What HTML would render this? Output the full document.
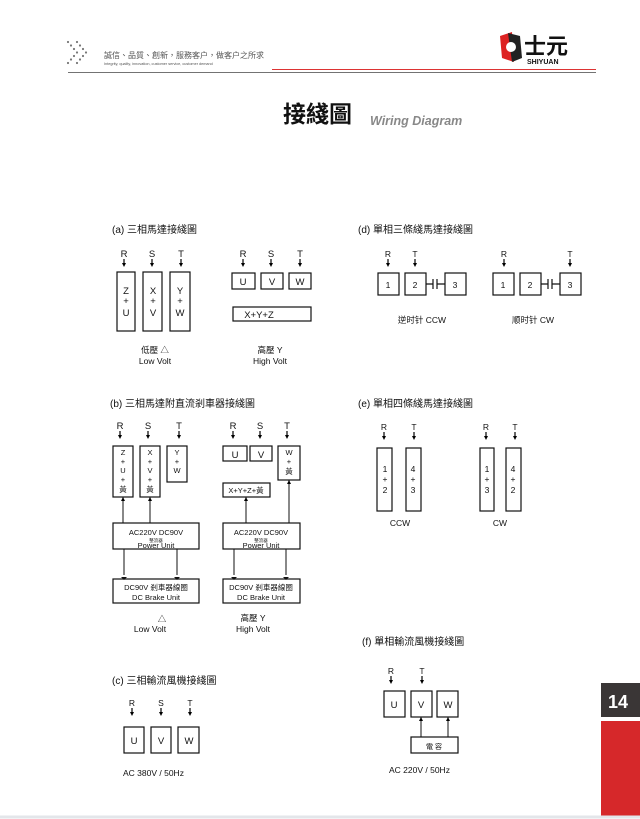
<!DOCTYPE html>
<html><head><meta charset="utf-8">
<style>
html,body{margin:0;padding:0;background:#fff;}
svg{display:block;font-family:"Liberation Sans","Noto Sans CJK TC",sans-serif;}
</style></head>
<body>
<svg width="640" height="819" viewBox="0 0 640 819" xmlns="http://www.w3.org/2000/svg">
<defs>
<g id="ar"><line x1="0" y1="0" x2="0" y2="6" stroke="#000" stroke-width="1.2"/><path d="M-2,4 L2,4 L0,8 Z" fill="#000"/></g>
<g id="au"><path d="M-2,4 L2,4 L0,0 Z" fill="#000"/></g>
</defs>
<rect width="640" height="819" fill="#fff"/>
<!-- header -->
<g fill="#777">
<circle cx="68" cy="42" r="1.1"/><circle cx="71" cy="45.5" r="1.1"/><circle cx="74" cy="49" r="1.1"/><circle cx="77" cy="52.5" r="1.1"/><circle cx="74" cy="56" r="1.1"/><circle cx="71" cy="59.5" r="1.1"/><circle cx="68" cy="63" r="1.1"/>
<circle cx="77" cy="42" r="1.1"/><circle cx="80" cy="45.5" r="1.1"/><circle cx="83" cy="49" r="1.1"/><circle cx="86" cy="52.5" r="1.1"/><circle cx="83" cy="56" r="1.1"/><circle cx="80" cy="59.5" r="1.1"/><circle cx="77" cy="63" r="1.1"/>
</g>
<text x="104" y="58" font-size="8" fill="#555">誠信、品質、創新，服務客户，做客户之所求</text>
<text x="104" y="65" font-size="3.8" fill="#555">Integrity, quality, innovation, customer service, customer demand</text>
<line x1="68" y1="72.5" x2="596" y2="72.5" stroke="#444" stroke-width="0.8"/>
<line x1="272" y1="69.5" x2="596" y2="69.5" stroke="#d33" stroke-width="1"/>
<!-- logo -->
<path d="M500,36 L512,32 L514,62 L502,58 Z" fill="#d22"/>
<path d="M508,33 L520,36 L522,58 L512,62 Z" fill="#222"/>
<circle cx="511" cy="47" r="5" fill="#fff"/>
<text x="524" y="54" font-size="22" font-weight="bold" fill="#111">士元</text>
<text x="527" y="64" font-size="7" font-weight="bold" fill="#111">SHIYUAN</text>
<!-- title -->
<text x="283" y="122" font-size="23" font-weight="bold" fill="#111">接綫圖</text>
<text x="370" y="125" font-size="12.5" font-style="italic" font-weight="bold" fill="#888">Wiring Diagram</text>

<g fill="none" stroke="#111" stroke-width="1.2">
<rect x="117" y="272" width="18" height="59"/><rect x="143" y="272" width="19" height="59"/><rect x="170" y="272" width="20" height="59"/>
<rect x="232" y="273" width="23" height="16"/><rect x="261" y="273" width="22" height="16"/><rect x="289" y="273" width="22" height="16"/>
<rect x="233" y="307" width="78" height="14"/>
<rect x="378" y="273" width="21" height="22"/><rect x="405" y="273" width="21" height="22"/><rect x="445" y="273" width="21" height="22"/>
<rect x="493" y="273" width="21" height="22"/><rect x="520" y="273" width="21" height="22"/><rect x="560" y="273" width="21" height="22"/>
<path d="M426,284 H433 M433,279 V289 M437,279 V289 M437,284 H445"/>
<path d="M541,284 H548 M548,279 V289 M552,279 V289 M552,284 H560"/>
<rect x="113" y="446" width="20" height="51"/><rect x="140" y="446" width="20" height="51"/><rect x="167" y="446" width="20" height="36"/>
<rect x="113" y="523" width="86" height="26"/><rect x="113" y="579" width="86" height="24"/>
<rect x="223" y="446" width="24" height="15"/><rect x="250" y="446" width="22" height="15"/><rect x="278" y="446" width="22" height="34"/>
<rect x="223" y="483" width="47" height="14"/>
<rect x="223" y="523" width="77" height="26"/><rect x="223" y="579" width="77" height="24"/>
<rect x="377" y="448" width="15" height="63"/><rect x="406" y="448" width="15" height="63"/>
<rect x="480" y="448" width="14" height="63"/><rect x="506" y="448" width="15" height="63"/>
<rect x="124" y="727" width="20" height="26"/><rect x="151" y="727" width="20" height="26"/><rect x="178" y="727" width="21" height="26"/>
<rect x="384" y="691" width="21" height="26"/><rect x="411" y="691" width="21" height="26"/><rect x="437" y="691" width="21" height="26"/>
<rect x="411" y="737" width="47" height="16"/>
</g>
<g stroke="#111" stroke-width="1">
<line x1="123" y1="497" x2="123" y2="523"/><line x1="150" y1="497" x2="150" y2="523"/>
<line x1="124" y1="549" x2="124" y2="575"/><line x1="177" y1="549" x2="177" y2="575"/>
<line x1="246" y1="497" x2="246" y2="523"/><line x1="289" y1="480" x2="289" y2="523"/>
<line x1="234" y1="549" x2="234" y2="575"/><line x1="286" y1="549" x2="286" y2="575"/>
<line x1="421" y1="717" x2="421" y2="737"/><line x1="448" y1="717" x2="448" y2="737"/>
</g>
<g fill="#111">
<path d="M121,577 L127,577 L124,580 Z"/><path d="M174,577 L180,577 L177,580 Z"/>
<path d="M231,577 L237,577 L234,580 Z"/><path d="M283,577 L289,577 L286,580 Z"/>
</g>
<use href="#au" x="123" y="497"/><use href="#au" x="150" y="497"/><use href="#au" x="246" y="497"/><use href="#au" x="289" y="480"/>
<use href="#au" x="421" y="717"/><use href="#au" x="448" y="717"/>
<use href="#ar" x="124" y="259"/><use href="#ar" x="152" y="259"/><use href="#ar" x="181" y="259"/>
<use href="#ar" x="243" y="259"/><use href="#ar" x="271" y="259"/><use href="#ar" x="300" y="259"/>
<use href="#ar" x="388" y="259"/><use href="#ar" x="415" y="259"/><use href="#ar" x="504" y="259"/><use href="#ar" x="570" y="259"/>
<use href="#ar" x="120" y="431"/><use href="#ar" x="148" y="431"/><use href="#ar" x="179" y="431"/>
<use href="#ar" x="233" y="431"/><use href="#ar" x="260" y="431"/><use href="#ar" x="287" y="431"/>
<use href="#ar" x="384" y="432"/><use href="#ar" x="414" y="432"/><use href="#ar" x="486" y="432"/><use href="#ar" x="515" y="432"/>
<use href="#ar" x="132" y="708"/><use href="#ar" x="161" y="708"/><use href="#ar" x="190" y="708"/>
<use href="#ar" x="391" y="676"/><use href="#ar" x="422" y="676"/>

<g font-size="10" fill="#111">
<text x="112" y="233">(a)  三相馬達接綫圖</text>
<text x="358" y="233">(d)  單相三條綫馬達接綫圖</text>
<text x="110" y="407">(b) 三相馬達附直流剎車器接綫圖</text>
<text x="358" y="407">(e)  單相四條綫馬達接綫圖</text>
<text x="112" y="684">(c) 三相輸流風機接綫圖</text>
<text x="362" y="645">(f)  單相輸流風機接綫圖</text>
</g>
<g font-size="9.5" fill="#111" text-anchor="middle">
<text x="124" y="257">R</text><text x="152" y="257">S</text><text x="181" y="257">T</text>
<text x="243" y="257">R</text><text x="271" y="257">S</text><text x="300" y="257">T</text>
<text x="126" y="294">Z</text><text x="126" y="304">+</text><text x="126" y="316">U</text>
<text x="153" y="294">X</text><text x="153" y="304">+</text><text x="153" y="316">V</text>
<text x="180" y="294">Y</text><text x="180" y="304">+</text><text x="180" y="316">W</text>
<text x="243" y="285">U</text><text x="272" y="285">V</text><text x="300" y="285">W</text>
<text x="259" y="318">X+Y+Z</text>
<text x="155" y="353" font-size="8.5">低壓  △</text><text x="155" y="364" font-size="8.5">Low  Volt</text>
<text x="270" y="353" font-size="8.5">高壓  Y</text><text x="270" y="364" font-size="8.5">High  Volt</text>
<text x="388" y="257" font-size="8.5">R</text><text x="415" y="257" font-size="8.5">T</text>
<text x="504" y="257" font-size="8.5">R</text><text x="570" y="257" font-size="8.5">T</text>
<text x="388" y="288" font-size="8.5">1</text><text x="415" y="288" font-size="8.5">2</text><text x="455" y="288" font-size="8.5">3</text>
<text x="503" y="288" font-size="8.5">1</text><text x="530" y="288" font-size="8.5">2</text><text x="570" y="288" font-size="8.5">3</text>
<text x="422" y="323" font-size="8.5">逆时针 CCW</text><text x="533" y="323" font-size="8.5">顺时针 CW</text>
<text x="120" y="429">R</text><text x="148" y="429">S</text><text x="179" y="429">T</text>
<text x="233" y="429">R</text><text x="260" y="429">S</text><text x="287" y="429">T</text>
<g font-size="7.5">
<text x="123" y="455">Z</text><text x="123" y="464">+</text><text x="123" y="473">U</text><text x="123" y="482">+</text><text x="123" y="492">黃</text>
<text x="150" y="455">X</text><text x="150" y="464">+</text><text x="150" y="473">V</text><text x="150" y="482">+</text><text x="150" y="492">黃</text>
<text x="177" y="455">Y</text><text x="177" y="464">+</text><text x="177" y="473">W</text>
<text x="289" y="455">W</text><text x="289" y="464">+</text><text x="289" y="474">黃</text>
<text x="246" y="493">X+Y+Z+黃</text>
<text x="156" y="535">AC220V      DC90V</text><text x="156" y="542" font-size="4.5">整流器</text><text x="156" y="548">Power Unit</text>
<text x="261" y="535">AC220V      DC90V</text><text x="261" y="542" font-size="4.5">整流器</text><text x="261" y="548">Power Unit</text>
<text x="156" y="590">DC90V 剎車器線圈</text><text x="156" y="600">DC Brake Unit</text>
<text x="261" y="590">DC90V 剎車器線圈</text><text x="261" y="600">DC Brake Unit</text>
</g>
<text x="235" y="458">U</text><text x="261" y="458">V</text>
<text x="162" y="622" font-size="8.5">△</text><text x="150" y="632" font-size="8.5">Low  Volt</text>
<text x="253" y="621" font-size="8.5">高壓  Y</text><text x="253" y="632" font-size="8.5">High  Volt</text>
<g font-size="8.5">
<text x="384" y="430">R</text><text x="414" y="430">T</text><text x="486" y="430">R</text><text x="515" y="430">T</text>
<text x="385" y="472">1</text><text x="385" y="482">+</text><text x="385" y="493">2</text>
<text x="413" y="472">4</text><text x="413" y="482">+</text><text x="413" y="493">3</text>
<text x="487" y="472">1</text><text x="487" y="482">+</text><text x="487" y="493">3</text>
<text x="513" y="472">4</text><text x="513" y="482">+</text><text x="513" y="493">2</text>
<text x="400" y="526">CCW</text><text x="500" y="526">CW</text>
<text x="132" y="706">R</text><text x="161" y="706">S</text><text x="190" y="706">T</text>
<text x="391" y="674">R</text><text x="422" y="674">T</text>
</g>
<text x="134" y="744">U</text><text x="161" y="744">V</text><text x="189" y="744">W</text>
<text x="394" y="708">U</text><text x="421" y="708">V</text><text x="448" y="708">W</text>
<text x="434" y="749" font-size="7">電  容</text>
</g>
<text x="123" y="776" font-size="8.5" fill="#111">AC  380V / 50Hz</text>
<text x="389" y="773" font-size="8.5" fill="#111">AC 220V / 50Hz</text>
<rect x="601" y="683" width="39" height="34" fill="#3a3636"/>
<text x="608" y="708" font-size="18" font-weight="bold" fill="#fff">14</text>
<rect x="601" y="721" width="39" height="95" fill="#d6282a"/>
<line x1="0" y1="817" x2="640" y2="817" stroke="#e3e6ea" stroke-width="3"/>
</svg>
</body></html>
